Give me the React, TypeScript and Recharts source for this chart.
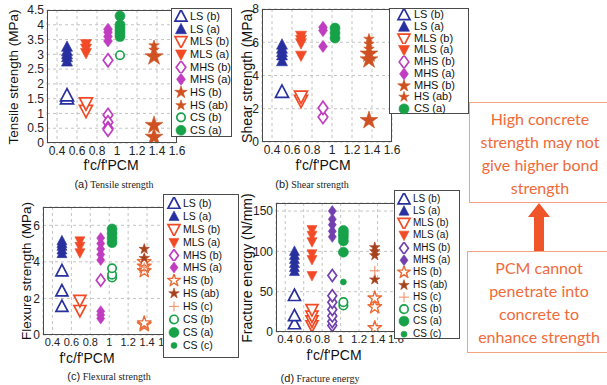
import React from 'react'
import { CartesianGrid, Scatter, ScatterChart, XAxis, YAxis } from 'recharts'

// f'c/f'PCM ratio of each concrete group
const groups = ['LS', 'MLS', 'MHS', 'CS', 'HS']
const ratios = [0.5, 0.69, 0.91, 1.03, 1.37]
const xTicks = [0.4, 0.6, 0.8, 1, 1.2, 1.4, 1.6]

// (a) tensile strength, MPa
const tenLSb = [1.5, 1.6]
const tenLSa = [2.75, 2.9, 3.0, 3.1, 3.25]
const tenMLSb = [1.1, 1.35]
const tenMLSa = [3.05, 3.2, 3.35]
const tenMHSb = [2.8, 0.95, 0.7, 0.5, 0.45]
const tenMHSa = [3.45, 3.6, 3.75, 3.85]
const tenHSb = [2.92, 0.6, 0.2]
const tenHSab = [3.15, 3.3]
const tenCSb = [2.97]
const tenCSa = [3.6, 3.7, 3.8, 3.9, 4.0, 4.3]
const tenTicks = [0, 0.5, 1, 1.5, 2, 2.5, 3, 3.5, 4, 4.5]

// (b) shear strength, MPa
const shLSb = [3.0]
const shLSa = [4.85, 5.2, 5.4, 5.6, 5.85]
const shMLSb = [2.5, 2.75]
const shMLSa = [5.2, 5.95, 6.15, 6.4]
const shMHSb = [1.5, 2.05]
const shMHSa = [5.75, 6.7, 6.9]
const shHSb = [1.3, 4.95, 5.3]
const shHSab = [5.6, 5.9, 6.2]
const shCSa = [6.25, 6.55, 6.85]
const shTicks = [0, 2, 4, 6, 8]

// (c) flexure strength, MPa
const flLSb = [1.55, 2.4, 3.5]
const flLSa = [4.45, 4.65, 4.85, 5.0, 5.15]
const flMLSb = [1.35, 1.9]
const flMLSa = [4.5, 4.85, 5.15]
const flMHSb = [3.0]
const flMHSa = [0.9, 1.1, 1.3, 4.1, 4.4, 4.7, 5.0, 5.3]
const flHSb = [0.55, 0.65, 3.5, 3.75, 4.0]
const flHSab = [4.2, 4.7]
const flHSc = [3.7]
const flCSb = [3.15, 3.3, 3.65]
const flCSa = [5.05, 5.3, 5.55, 5.8]
const flCSc = [5.2]
const flTicks = [0, 2, 4, 6]

// (d) fracture energy, N/mm
const frLSb = [10, 20, 45]
const frLSa = [75, 80, 85, 90, 95, 100]
const frMLSb = [8, 14, 20, 28]
const frMLSa = [70, 90, 97, 112, 120, 127]
const frMHSb = [8, 13, 20, 28, 37, 45, 70]
const frMHSa = [118, 125, 133, 140, 150]
const frHSb = [5, 31, 42]
const frHSab = [65, 95, 100, 105]
const frHSc = [76]
const frCSb = [33, 37]
const frCSa = [99, 113, 118, 122, 126]
const frCSc = [62]
const frTicks = [0, 50, 100, 150]

const BLUE = '#27309e'
const RED = '#f24a26'
const MAG = '#c03cc0'
const PURP = '#7440b0'
const BROWN = '#cf5020'
const DARKB = '#a8421e'
const ORG = '#ec6a34'
const LORG = '#f39a78'
const GREEN = '#17a24a'
const SANS = '"Liberation Sans", Arial, sans-serif'

type Kind = 'up' | 'down' | 'diamond' | 'star' | 'circle' | 'plus'
type Series = { name: string; g: string; v: number[]; kind: Kind; color: string; filled: boolean; size: number }

const toPoints = (g: string, v: number[]) => v.map((y) => ({ x: ratios[groups.indexOf(g)], y }))

const Marker = ({ cx, cy, kind, color, filled, size }: { cx: number; cy: number; kind: Kind; color: string; filled: boolean; size: number }) => {
  const s = size
  const fill = filled ? color : 'white'
  const sw = filled ? 0.6 : 1.7
  if (kind === 'up')
    return <polygon points={`${cx},${cy - s * 0.55} ${cx - s / 2},${cy + s * 0.4} ${cx + s / 2},${cy + s * 0.4}`} fill={fill} stroke={color} strokeWidth={sw} />
  if (kind === 'down')
    return <polygon points={`${cx},${cy + s * 0.55} ${cx - s / 2},${cy - s * 0.4} ${cx + s / 2},${cy - s * 0.4}`} fill={fill} stroke={color} strokeWidth={sw} />
  if (kind === 'diamond')
    return <polygon points={`${cx},${cy - s * 0.55} ${cx + s * 0.4},${cy} ${cx},${cy + s * 0.55} ${cx - s * 0.4},${cy}`} fill={fill} stroke={color} strokeWidth={sw} />
  if (kind === 'circle')
    return <circle cx={cx} cy={cy} r={filled ? s / 2 : s / 2 - 0.8} fill={fill} stroke={color} strokeWidth={sw} />
  if (kind === 'plus')
    return (
      <g stroke={color} strokeWidth={1.2}>
        <line x1={cx - s / 2} y1={cy} x2={cx + s / 2} y2={cy} />
        <line x1={cx} y1={cy - s / 2} x2={cx} y2={cy + s / 2} />
      </g>
    )
  const pts: string[] = []
  for (let i = 0; i < 10; i++) {
    const a = (-90 + i * 36) * Math.PI / 180
    const r = i % 2 ? s * 0.21 : s * 0.55
    pts.push(`${cx + r * Math.cos(a)},${cy + r * Math.sin(a)}`)
  }
  return <polygon points={pts.join(' ')} fill={fill} stroke={color} strokeWidth={filled ? 0.6 : 1.4} strokeLinejoin="round" />
}

const tensile: Series[] = [
  { name: 'LS (b)', g: 'LS', v: tenLSb, kind: 'up', color: BLUE, filled: false, size: 13 },
  { name: 'LS (a)', g: 'LS', v: tenLSa, kind: 'up', color: BLUE, filled: true, size: 11 },
  { name: 'MLS (b)', g: 'MLS', v: tenMLSb, kind: 'down', color: RED, filled: false, size: 13 },
  { name: 'MLS (a)', g: 'MLS', v: tenMLSa, kind: 'down', color: RED, filled: true, size: 11 },
  { name: 'MHS (b)', g: 'MHS', v: tenMHSb, kind: 'diamond', color: MAG, filled: false, size: 12 },
  { name: 'MHS (a)', g: 'MHS', v: tenMHSa, kind: 'diamond', color: MAG, filled: true, size: 11 },
  { name: 'HS (b)', g: 'HS', v: tenHSb, kind: 'star', color: BROWN, filled: true, size: 17 },
  { name: 'HS (ab)', g: 'HS', v: tenHSab, kind: 'star', color: BROWN, filled: true, size: 10 },
  { name: 'CS (b)', g: 'CS', v: tenCSb, kind: 'circle', color: GREEN, filled: false, size: 10 },
  { name: 'CS (a)', g: 'CS', v: tenCSa, kind: 'circle', color: GREEN, filled: true, size: 10 },
]

const shear: Series[] = [
  { name: 'LS (b)', g: 'LS', v: shLSb, kind: 'up', color: BLUE, filled: false, size: 13 },
  { name: 'LS (a)', g: 'LS', v: shLSa, kind: 'up', color: BLUE, filled: true, size: 11 },
  { name: 'MLS (b)', g: 'MLS', v: shMLSb, kind: 'down', color: RED, filled: false, size: 13 },
  { name: 'MLS (a)', g: 'MLS', v: shMLSa, kind: 'down', color: RED, filled: true, size: 11 },
  { name: 'MHS (b)', g: 'MHS', v: shMHSb, kind: 'diamond', color: MAG, filled: false, size: 12 },
  { name: 'MHS (a)', g: 'MHS', v: shMHSa, kind: 'diamond', color: MAG, filled: true, size: 11 },
  { name: 'MHS (b)', g: 'HS', v: shHSb, kind: 'star', color: BROWN, filled: true, size: 17 },
  { name: 'HS (ab)', g: 'HS', v: shHSab, kind: 'star', color: BROWN, filled: true, size: 10 },
  { name: 'CS (a)', g: 'CS', v: shCSa, kind: 'circle', color: GREEN, filled: true, size: 10 },
]

const flexure: Series[] = [
  { name: 'LS (b)', g: 'LS', v: flLSb, kind: 'up', color: BLUE, filled: false, size: 12 },
  { name: 'LS (a)', g: 'LS', v: flLSa, kind: 'up', color: BLUE, filled: true, size: 10 },
  { name: 'MLS (b)', g: 'MLS', v: flMLSb, kind: 'down', color: RED, filled: false, size: 12 },
  { name: 'MLS (a)', g: 'MLS', v: flMLSa, kind: 'down', color: RED, filled: true, size: 10 },
  { name: 'MHS (b)', g: 'MHS', v: flMHSb, kind: 'diamond', color: MAG, filled: false, size: 11 },
  { name: 'MHS (a)', g: 'MHS', v: flMHSa, kind: 'diamond', color: MAG, filled: true, size: 10 },
  { name: 'HS (b)', g: 'HS', v: flHSb, kind: 'star', color: ORG, filled: false, size: 13 },
  { name: 'HS (ab)', g: 'HS', v: flHSab, kind: 'star', color: DARKB, filled: true, size: 10 },
  { name: 'HS (c)', g: 'HS', v: flHSc, kind: 'plus', color: LORG, filled: false, size: 10 },
  { name: 'CS (b)', g: 'CS', v: flCSb, kind: 'circle', color: GREEN, filled: false, size: 10 },
  { name: 'CS (a)', g: 'CS', v: flCSa, kind: 'circle', color: GREEN, filled: true, size: 10 },
  { name: 'CS (c)', g: 'CS', v: flCSc, kind: 'circle', color: GREEN, filled: true, size: 6 },
]

const fracture: Series[] = [
  { name: 'LS (b)', g: 'LS', v: frLSb, kind: 'up', color: BLUE, filled: false, size: 12 },
  { name: 'LS (a)', g: 'LS', v: frLSa, kind: 'up', color: BLUE, filled: true, size: 10 },
  { name: 'MLS (b)', g: 'MLS', v: frMLSb, kind: 'down', color: RED, filled: false, size: 12 },
  { name: 'MLS (a)', g: 'MLS', v: frMLSa, kind: 'down', color: RED, filled: true, size: 10 },
  { name: 'MHS (b)', g: 'MHS', v: frMHSb, kind: 'diamond', color: PURP, filled: false, size: 11 },
  { name: 'MHS (a)', g: 'MHS', v: frMHSa, kind: 'diamond', color: PURP, filled: true, size: 10 },
  { name: 'HS (b)', g: 'HS', v: frHSb, kind: 'star', color: ORG, filled: false, size: 13 },
  { name: 'HS (ab)', g: 'HS', v: frHSab, kind: 'star', color: DARKB, filled: true, size: 10 },
  { name: 'HS (c)', g: 'HS', v: frHSc, kind: 'plus', color: LORG, filled: false, size: 10 },
  { name: 'CS (b)', g: 'CS', v: frCSb, kind: 'circle', color: GREEN, filled: false, size: 10 },
  { name: 'CS (a)', g: 'CS', v: frCSa, kind: 'circle', color: GREEN, filled: true, size: 10 },
  { name: 'CS (c)', g: 'CS', v: frCSc, kind: 'circle', color: GREEN, filled: true, size: 6 },
]

type PanelProps = {
  series: Series[]
  box: [number, number, number, number] // plot left, top, right, bottom
  yMax: number
  yTicks: number[]
  tickFont: number
  yTitle: string
  yTitleX: number
  yTitleSize: number
  xTitleX: number
  xTitleY: number
  caption: [string, string]
  capX: number
  capY: number
  legend: { left: number; top: number; width: number; height: number; rowH: number; pad: number; symX: number; textX: number; font: number }
}

const Panel = (p: PanelProps) => {
  const [pl, pt, pr, pb] = p.box
  const cl = pl - 34
  const ct = pt - 9
  const lg = p.legend
  return (
    <>
      <div style={{ position: 'absolute', left: cl, top: ct }}>
        <ScatterChart width={pr - cl + 12} height={pb + 20 - ct} margin={{ top: pt - ct, right: 12, bottom: 0, left: 0 }}>
          <CartesianGrid stroke="#c4c4c4" strokeDasharray="3 3" />
          <XAxis type="number" dataKey="x" domain={[0.3, 1.6]} ticks={xTicks} allowDataOverflow height={20}
            axisLine={false} tickLine={false} tickSize={0} tickMargin={3} interval={0}
            tick={{ fontSize: p.tickFont, fill: '#222', fontFamily: SANS }} />
          <YAxis type="number" dataKey="y" domain={[0, p.yMax]} ticks={p.yTicks} allowDataOverflow width={pl - cl}
            axisLine={false} tickLine={false} tickSize={0} tickMargin={3} interval={0}
            tick={{ fontSize: 12, fill: '#222', fontFamily: SANS }} />
          {p.series.map((s, i) => (
            <Scatter key={i} name={s.name} data={toPoints(s.g, s.v)} isAnimationActive={false}
              shape={(q: any) => <Marker cx={q.cx} cy={q.cy} kind={s.kind} color={s.color} filled={s.filled} size={s.size} />} />
          ))}
        </ScatterChart>
      </div>
      <div style={{ position: 'absolute', left: pl, top: pt, width: pr - pl, height: pb - pt, border: '1px solid #4a4a4a', boxSizing: 'border-box', pointerEvents: 'none' }} />
      <div style={{ position: 'absolute', left: p.yTitleX, top: (pt + pb) / 2, transform: 'translate(-50%, -50%) rotate(-90deg)', whiteSpace: 'nowrap', fontFamily: SANS, fontSize: p.yTitleSize, color: '#111' }}>{p.yTitle}</div>
      <div style={{ position: 'absolute', left: p.xTitleX, top: p.xTitleY, transform: 'translate(-50%, -50%)', whiteSpace: 'nowrap', fontFamily: SANS, fontSize: 14, color: '#111' }}>f'c/f'PCM</div>
      <div style={{ position: 'absolute', left: p.capX, top: p.capY, transform: 'translate(-50%, -50%)', whiteSpace: 'nowrap', color: '#222' }}>
        <span style={{ fontFamily: SANS, fontSize: 11 }}>{p.caption[0]}</span>
        <span style={{ fontFamily: '"Liberation Serif", serif', fontSize: 10 }}> {p.caption[1]}</span>
      </div>
      <div style={{ position: 'absolute', left: lg.left, top: lg.top, width: lg.width, height: lg.height, border: '1px solid #4a4a4a', boxSizing: 'border-box', background: 'white', paddingTop: lg.pad }}>
        {p.series.map((s, i) => (
          <div key={i} style={{ position: 'relative', height: lg.rowH }}>
            <svg width={20} height={lg.rowH} style={{ position: 'absolute', left: lg.symX - 10, top: 0 }}>
              <Marker cx={10} cy={lg.rowH / 2} kind={s.kind} color={s.color} filled={s.filled} size={Math.min(s.size, 12)} />
            </svg>
            <span style={{ position: 'absolute', left: lg.textX, top: 0, lineHeight: `${lg.rowH}px`, fontFamily: SANS, fontSize: lg.font, color: '#111', whiteSpace: 'nowrap' }}>{s.name}</span>
          </div>
        ))}
      </div>
    </>
  )
}

const NoteBox = ({ left, top, height, lines }: { left: number; top: number; height: number; lines: string[] }) => (
  <div style={{ position: 'absolute', left, top, width: 607 - left + 4, height, border: '1px solid #f3a283', boxSizing: 'border-box', display: 'flex', flexDirection: 'column', justifyContent: 'center', alignItems: 'center', fontFamily: 'Lato, "Open Sans", sans-serif', fontSize: 16, lineHeight: '23px', color: '#f06a3a' }}>
    {lines.map((l, i) => <div key={i} style={{ whiteSpace: 'nowrap' }}>{l}</div>)}
  </div>
)

export default function App() {
  return (
    <div style={{ position: 'absolute', left: 0, top: 0, width: 607, height: 385, background: 'white', overflow: 'hidden' }}>
      <Panel series={tensile} box={[47, 10, 177, 143]} yMax={4.5} yTicks={tenTicks} tickFont={12} yTitle="Tensile strength (MPa)" yTitleX={13} yTitleSize={13.5}
        xTitleX={111} xTitleY={165} caption={['(a)', 'Tensile strength']} capX={114} capY={183}
        legend={{ left: 171, top: 8, width: 61, height: 129, rowH: 12.67, pad: 1, symX: 9, textX: 18, font: 11 }} />
      <Panel series={shear} box={[262, 9, 392, 142]} yMax={8} yTicks={shTicks} tickFont={12} yTitle="Shear strength (MPa)" yTitleX={247} yTitleSize={14}
        xTitleX={323} xTitleY={165} caption={['(b)', 'Shear strength']} capX={312} capY={183}
        legend={{ left: 389, top: 8, width: 80, height: 106, rowH: 11.75, pad: 0, symX: 14, textX: 24, font: 11 }} />
      <Panel series={flexure} box={[43, 207, 166, 335]} yMax={7} yTicks={flTicks} tickFont={11} yTitle="Flexure strength (MPa)" yTitleX={26} yTitleSize={13.5}
        xTitleX={87} xTitleY={358} caption={['(c)', 'Flexural strength']} capX={109} capY={375}
        legend={{ left: 163, top: 194, width: 76, height: 164, rowH: 12.9, pad: 2, symX: 10, textX: 19, font: 10.5 }} />
      <Panel series={fracture} box={[276, 203, 396, 332]} yMax={160} yTicks={frTicks} tickFont={11.5} yTitle="Fracture energy (N/mm)" yTitleX={247} yTitleSize={14}
        xTitleX={334} xTitleY={355} caption={['(d)', 'Fracture energy']} capX={320} capY={377}
        legend={{ left: 394, top: 190, width: 66, height: 149, rowH: 12.3, pad: 1.5, symX: 9, textX: 18, font: 10 }} />
      <NoteBox left={469} top={102} height={101} lines={['High concrete', 'strength may not', 'give higher bond', 'strength']} />
      <svg width={40} height={52} style={{ position: 'absolute', left: 519, top: 202 }}>
        <polygon points="20,1 31,15 25,15 25,50 15,50 15,15 9,15" fill="#f0552a" />
      </svg>
      <NoteBox left={467} top={251} height={102} lines={['PCM cannot', 'penetrate into', 'concrete to', 'enhance strength']} />
    </div>
  )
}
